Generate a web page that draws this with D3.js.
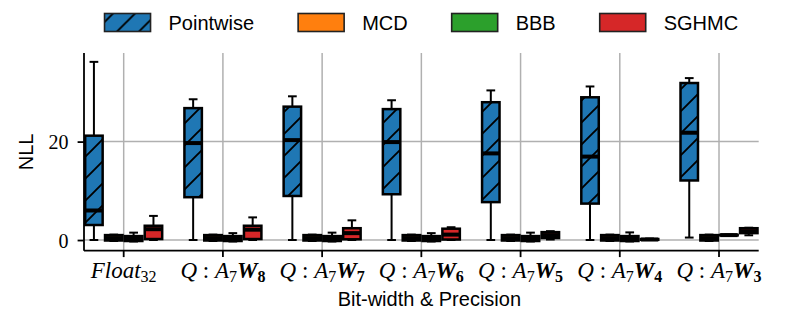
<!DOCTYPE html>
<html>
<head>
<meta charset="utf-8">
<script src="https://cdn.jsdelivr.net/npm/d3@7"></script>
<style>
  body { margin: 0; background: #fff; }
  svg { display: block; }
</style>
</head>
<body>
<div id="chart"></div>
<script>
// categories (x axis), one label made of math pieces
var CATS = ["Float32", "W8", "W7", "W6", "W5", "W4", "W3"];
var TICK_LABELS = [
  [["Float", "i"], ["32", "sub"]],
  [["Q", "i"], [" : ", ""], ["A", "i"], ["7", "sub"], ["W", "bi"], ["8", "bsub"]],
  [["Q", "i"], [" : ", ""], ["A", "i"], ["7", "sub"], ["W", "bi"], ["7", "bsub"]],
  [["Q", "i"], [" : ", ""], ["A", "i"], ["7", "sub"], ["W", "bi"], ["6", "bsub"]],
  [["Q", "i"], [" : ", ""], ["A", "i"], ["7", "sub"], ["W", "bi"], ["5", "bsub"]],
  [["Q", "i"], [" : ", ""], ["A", "i"], ["7", "sub"], ["W", "bi"], ["4", "bsub"]],
  [["Q", "i"], [" : ", ""], ["A", "i"], ["7", "sub"], ["W", "bi"], ["3", "bsub"]]
];
var METHODS = ["Pointwise", "MCD", "BBB", "SGHMC"];
var COLORS = ["#1f77b4", "#ff7f0e", "#2ca02c", "#d62728"];
var Y_TICKS = [0, 20];

// box stats per category: [whisker low, q1, median, q3, whisker high]
var pointwise = [
  [0, 3.05, 6.0, 21.2, 36.2],
  [0, 8.7, 19.7, 26.8, 28.6],
  [0, 8.95, 20.3, 27.1, 29.2],
  [0, 9.3, 19.9, 26.6, 28.4],
  [0, 7.7, 17.6, 28.0, 30.4],
  [0, 7.4, 16.95, 29.0, 31.2],
  [0.5, 12.1, 21.8, 31.9, 32.9]
];
var mcd = [
  [-0.2, -0.1, 0.4, 1.0, 1.1],
  [-0.2, -0.1, 0.4, 1.0, 1.1],
  [-0.2, -0.1, 0.4, 1.0, 1.1],
  [-0.2, -0.1, 0.4, 1.0, 1.1],
  [-0.2, -0.1, 0.4, 1.0, 1.1],
  [-0.2, -0.1, 0.4, 1.0, 1.1],
  [-0.2, -0.1, 0.4, 1.0, 1.1]
];
var bbb = [
  [-0.3, -0.2, 0.3, 0.8, 1.5],
  [-0.3, -0.2, 0.3, 0.8, 1.4],
  [-0.3, -0.2, 0.3, 0.8, 1.5],
  [-0.3, -0.2, 0.3, 0.8, 1.4],
  [-0.3, -0.2, 0.3, 0.8, 1.5],
  [-0.3, -0.2, 0.3, 0.8, 1.55],
  [0.9, 0.95, 1.0, 1.05, 1.1]
];
var sghmc = [
  [0, 0.2, 2.2, 2.9, 4.9],
  [0, 0.2, 2.1, 2.9, 4.6],
  [0, 0.15, 1.4, 2.4, 4.0],
  [0, 0.1, 1.1, 2.3, 2.6],
  [0.1, 0.4, 1.0, 1.6, 1.8],
  [0.0, 0.05, 0.1, 0.2, 0.3],
  [0.96, 1.4, 1.8, 2.4, 2.5]
];
var STATS = [pointwise, mcd, bbb, sghmc];

var W = 789, H = 316,
  LEFT = 84, RIGHT = 758.7, TOP = 53, BOTTOM = 250.7,
  SANS = "'Liberation Sans', Arial, sans-serif",
  SERIF = "'Liberation Serif', 'DejaVu Serif', serif";

var svg = d3.select("#chart").append("svg")
  .attr("width", W)
  .attr("height", H);

var defs = svg.append("defs");
var hatch = defs.append("pattern")
  .attr("id", "hatch")
  .attr("patternUnits", "userSpaceOnUse")
  .attr("width", 22)
  .attr("height", 22);
hatch.append("rect").attr("width", 22).attr("height", 22).attr("fill", COLORS[0]);
hatch.append("path")
  .attr("d", "M0,22L22,0M-11,11L11,-11M11,33L33,11")
  .attr("stroke", "#000")
  .attr("stroke-width", 1.9);

var x = d3.scaleLinear().domain([-0.4, 6.4]).range([LEFT, RIGHT]);
var y = d3.scaleLinear().domain([-2.17, 38]).range([BOTTOM, TOP]);
var hue = d3.scaleBand().domain(METHODS).range([-0.4, 0.4]);
var boxW = x(hue.bandwidth() * 0.88) - x(0);

// grid
svg.append("g").selectAll("line.gy")
  .data(Y_TICKS).enter().append("line")
  .attr("x1", LEFT).attr("x2", RIGHT)
  .attr("y1", function(d) { return y(d); })
  .attr("y2", function(d) { return y(d); })
  .attr("stroke", "#b0b0b0").attr("stroke-width", 1.5);
svg.append("g").selectAll("line.gx")
  .data(CATS).enter().append("line")
  .attr("x1", function(d, i) { return x(i); })
  .attr("x2", function(d, i) { return x(i); })
  .attr("y1", TOP).attr("y2", BOTTOM)
  .attr("stroke", "#b0b0b0").attr("stroke-width", 1.5);

// boxes
METHODS.forEach(function(m, k) {
  var g = svg.append("g");
  STATS[k].forEach(function(s, i) {
    var cx = x(i + hue(m) + hue.bandwidth() / 2);
    // whiskers
    g.append("line")
      .attr("x1", cx).attr("x2", cx)
      .attr("y1", y(s[0])).attr("y2", y(s[1]))
      .attr("stroke", "#000").attr("stroke-width", 2);
    g.append("line")
      .attr("x1", cx).attr("x2", cx)
      .attr("y1", y(s[3])).attr("y2", y(s[4]))
      .attr("stroke", "#000").attr("stroke-width", 2);
    [s[0], s[4]].forEach(function(v) {
      g.append("line")
        .attr("x1", cx - boxW / 4).attr("x2", cx + boxW / 4)
        .attr("y1", y(v)).attr("y2", y(v))
        .attr("stroke", "#000").attr("stroke-width", 2);
    });
    g.append("rect")
      .attr("x", cx - boxW / 2)
      .attr("y", y(s[3]))
      .attr("width", boxW)
      .attr("height", Math.max(y(s[1]) - y(s[3]), 0.5))
      .attr("fill", k === 0 ? "url(#hatch)" : COLORS[k])
      .attr("stroke", "#000").attr("stroke-width", 2.5);
    g.append("line")
      .attr("x1", cx - boxW / 2).attr("x2", cx + boxW / 2)
      .attr("y1", y(s[2])).attr("y2", y(s[2]))
      .attr("stroke", "#000").attr("stroke-width", 4);
  });
});

// spines + axes
var yAxis = svg.append("g")
  .attr("transform", "translate(" + LEFT + ",0)")
  .call(d3.axisLeft(y).tickValues(Y_TICKS).tickSize(6.4).tickPadding(9).tickSizeOuter(0));
yAxis.select(".domain").remove();
yAxis.selectAll(".tick line").attr("stroke-width", 1.8);
yAxis.selectAll(".tick text")
  .attr("font-family", SERIF).attr("font-size", 20).attr("fill", "#000")
  .attr("dy", "0.36em");

svg.append("line")
  .attr("x1", LEFT).attr("x2", LEFT).attr("y1", TOP).attr("y2", BOTTOM)
  .attr("stroke", "#000").attr("stroke-width", 1.8);
svg.append("line")
  .attr("x1", LEFT).attr("x2", RIGHT).attr("y1", BOTTOM).attr("y2", BOTTOM)
  .attr("stroke", "#000").attr("stroke-width", 1.8);

// x tick marks and math labels
var xt = svg.append("g").selectAll("g")
  .data(TICK_LABELS).enter().append("g")
  .attr("transform", function(d, i) { return "translate(" + x(i) + "," + BOTTOM + ")"; });
xt.append("line").attr("y2", 6.4).attr("stroke", "#000").attr("stroke-width", 1.8);
xt.append("text")
  .attr("y", 27)
  .attr("text-anchor", "middle")
  .attr("font-family", SERIF)
  .attr("font-size", 23)
  .each(function(parts) {
    var t = d3.select(this), shifted = false;
    parts.forEach(function(p) {
      var sp = t.append("tspan").text(p[0]);
      var sub = p[1] === "sub" || p[1] === "bsub";
      if (p[1] === "i" || p[1] === "bi") sp.attr("font-style", "italic");
      if (p[1] === "bi" || p[1] === "bsub") sp.attr("font-weight", "bold");
      if (sub) { sp.attr("font-size", 16).attr("dy", 4); shifted = true; }
      else if (shifted) { sp.attr("dy", -4); shifted = false; }
    });
  });

// axis titles
svg.append("text")
  .attr("x", (LEFT + RIGHT) / 2 + 8).attr("y", 306)
  .attr("text-anchor", "middle")
  .attr("font-family", SANS).attr("font-size", 20)
  .text("Bit-width & Precision");
svg.append("text")
  .attr("transform", "translate(33," + (TOP + BOTTOM) / 2 + ") rotate(-90)")
  .attr("text-anchor", "middle")
  .attr("font-family", SANS).attr("font-size", 20)
  .text("NLL");

// legend
var leg = svg.append("g");
var items = leg.selectAll("g").data(METHODS).enter().append("g");
items.append("rect")
  .attr("y", 13.5).attr("width", 46).attr("height", 18)
  .attr("fill", function(d, i) { return i === 0 ? "url(#hatch)" : COLORS[i]; })
  .attr("stroke", "#222").attr("stroke-width", 1.6);
items.append("text")
  .attr("x", 64).attr("y", 30)
  .attr("font-family", SANS).attr("font-size", 20)
  .text(function(d) { return d; });
var offs = [], pos = 0;
items.each(function() {
  offs.push(pos);
  pos += 64 + d3.select(this).select("text").node().getComputedTextLength() + 44;
});
var total = pos - 44, start = (LEFT + RIGHT) / 2 - total / 2;
items.attr("transform", function(d, i) { return "translate(" + (start + offs[i]) + ",0)"; });
</script>
</body>
</html>
